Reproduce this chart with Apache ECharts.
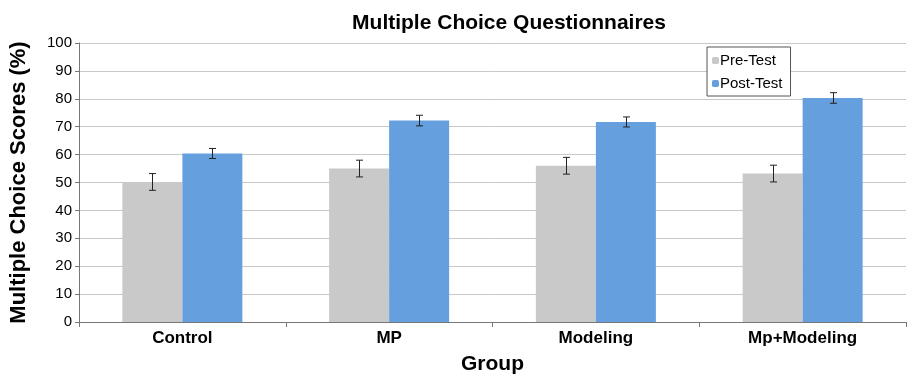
<!DOCTYPE html>
<html><head><meta charset="utf-8">
<script src="https://cdn.jsdelivr.net/npm/echarts@6/dist/echarts.min.js"></script>
<style>html,body{margin:0;padding:0;background:#fff}#c{width:914px;height:380px}</style>
</head><body><div id="c"></div>
<script>
const categories = ['Control', 'MP', 'Modeling', 'Mp+Modeling'];
const preTest = [50.2, 55.0, 56.0, 53.2];
const postTest = [60.4, 72.2, 71.7, 80.3];
const preErr = [3.0, 3.0, 3.0, 3.0];
const postErr = [1.8, 1.9, 1.8, 1.9];
const yTicks = [0, 10, 20, 30, 40, 50, 60, 70, 80, 90, 100];

const chart = echarts.init(document.getElementById('c'));
const font = 'Arial, "Liberation Sans", Helvetica, sans-serif';

function errSeries(vals, errs, idx, name) {
  return {
    type: 'custom', name: name + ' err', z: 10, silent: true,
    data: vals.map((v, i) => [i, v - errs[i], v + errs[i]]),
    renderItem: function (params, api) {
      const i = api.value(0);
      const lo = api.coord([i, api.value(1)]);
      const hi = api.coord([i, api.value(2)]);
      const barW = 60;
      const x = Math.round(lo[0] + (idx === 0 ? -barW / 2 : barW / 2)) + 0.5;
      const h = 3.5;
      const st = { stroke: '#222', lineWidth: 1 };
      return { type: 'group', children: [
        { type: 'line', shape: { x1: x, y1: lo[1], x2: x, y2: hi[1] }, style: st },
        { type: 'line', shape: { x1: x - h, y1: lo[1], x2: x + h, y2: lo[1] }, style: st },
        { type: 'line', shape: { x1: x - h, y1: hi[1], x2: x + h, y2: hi[1] }, style: st }
      ]};
    }
  };
}

chart.setOption({
  animation: false,
  backgroundColor: '#fff',
  title: { text: 'Multiple Choice Questionnaires', left: 504, top: 8, textAlign: 'center',
    textStyle: { fontFamily: font, fontSize: 21, fontWeight: 'bold', color: '#000' } },
  grid: { left: 79, right: 8, top: 43, bottom: 55 },
  legend: {
    orient: 'vertical', left: 707, top: 47, itemWidth: 7, itemHeight: 7, itemGap: 8,
    padding: [6, 8, 5, 5], borderColor: '#555', borderWidth: 1, backgroundColor: '#fff',
    data: ['Pre-Test', 'Post-Test'],
    textStyle: { fontFamily: font, fontSize: 15, color: '#000', padding: [0, 0, 0, -4] }
  },
  xAxis: {
    type: 'category', data: categories,
    name: 'Group', nameLocation: 'middle', nameGap: 32,
    nameTextStyle: { fontFamily: font, fontSize: 21, fontWeight: 'bold', color: '#000' },
    axisLine: { lineStyle: { color: '#777' } },
    axisTick: { show: true, length: 5, lineStyle: { color: '#777' } },
    axisLabel: { fontFamily: font, fontSize: 17, fontWeight: 'bold', color: '#000', margin: 8 }
  },
  yAxis: {
    type: 'value', min: 0, max: 100, interval: 10,
    name: 'Multiple Choice Scores (%)', nameLocation: 'middle', nameGap: 49,
    nameTextStyle: { fontFamily: font, fontSize: 22, fontWeight: 'bold', color: '#000' },
    axisLine: { show: true, lineStyle: { color: '#777' } },
    axisTick: { show: true, length: 4, lineStyle: { color: '#777' } },
    axisLabel: { fontFamily: font, fontSize: 15, color: '#000', margin: 7,
      formatter: v => yTicks.includes(v) ? String(v) : '' },
    splitLine: { lineStyle: { color: '#c8c8c8' } }
  },
  series: [
    { name: 'Pre-Test', type: 'bar', data: preTest, barWidth: 60, barGap: '0%',
      itemStyle: { color: '#c9c9c9' } },
    { name: 'Post-Test', type: 'bar', data: postTest, barWidth: 60,
      itemStyle: { color: '#659fdd' } },
    errSeries(preTest, preErr, 0, 'Pre-Test'),
    errSeries(postTest, postErr, 1, 'Post-Test')
  ]
});
</script></body></html>
